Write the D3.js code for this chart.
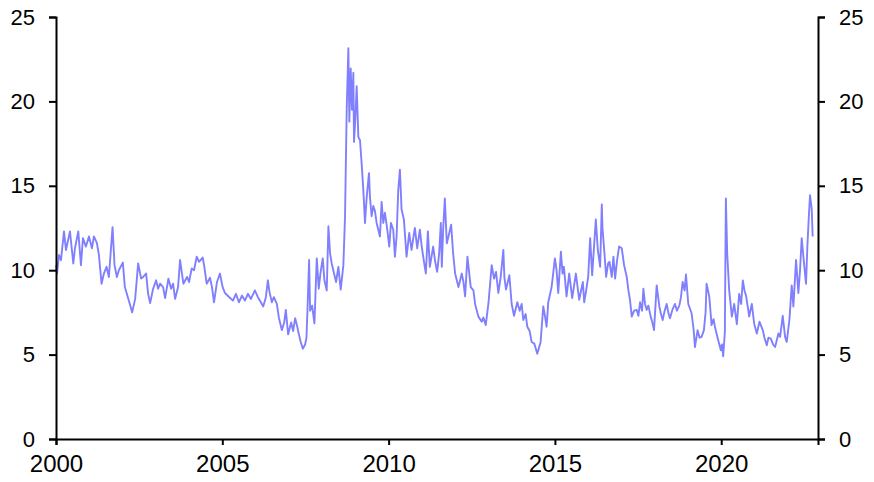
<!DOCTYPE html>
<html lang="en">
  <head>
    <title>Volatility, 2000-2022</title>
    <style>
      body { margin: 0; background: #fff; }
      .axis text { font-family: "Liberation Sans", Arial, sans-serif; font-size: 22px; fill: #000; }
      .axis.x text { font-size: 24px; }
      .axis path, .axis line { stroke: #000; stroke-width: 2; }
    </style>
  </head>
  <body>
    <div id="viz"></div>
    <script src="https://unpkg.com/d3@7/dist/d3.min.js"></script>
    <script>
      // values (decimal years)
      const dates = [
        2000.00, 2000.03, 2000.09, 2000.15, 2000.24, 2000.30, 2000.42, 2000.52, 2000.57, 2000.67,
        2000.75, 2000.81, 2000.90, 2000.99, 2001.08, 2001.14, 2001.23, 2001.29, 2001.37, 2001.44,
        2001.52, 2001.59, 2001.70, 2001.76, 2001.83, 2001.89, 2002.01, 2002.07, 2002.16, 2002.22,
        2002.29, 2002.38, 2002.47, 2002.56, 2002.62, 2002.71, 2002.77, 2002.83, 2002.92, 2003.01,
        2003.07, 2003.13, 2003.22, 2003.28, 2003.38, 2003.46, 2003.52, 2003.58, 2003.67, 2003.73,
        2003.83, 2003.94, 2004.00, 2004.08, 2004.15, 2004.23, 2004.30, 2004.41, 2004.46, 2004.53,
        2004.63, 2004.69, 2004.75, 2004.84, 2004.93, 2005.01, 2005.08, 2005.21, 2005.32, 2005.41,
        2005.50, 2005.59, 2005.68, 2005.77, 2005.86, 2005.98, 2006.07, 2006.16, 2006.23, 2006.31,
        2006.37, 2006.42, 2006.49, 2006.55, 2006.64, 2006.70, 2006.79, 2006.86, 2006.91, 2006.95,
        2006.98, 2007.07, 2007.13, 2007.19, 2007.25, 2007.28, 2007.35, 2007.42, 2007.49, 2007.53,
        2007.56, 2007.61, 2007.64, 2007.70, 2007.77, 2007.84, 2007.90, 2007.95, 2008.02, 2008.07,
        2008.14, 2008.19, 2008.24, 2008.29, 2008.36, 2008.42, 2008.49, 2008.56, 2008.64, 2008.69,
        2008.74, 2008.79, 2008.82, 2008.86, 2008.90, 2008.94, 2008.96, 2009.00, 2009.04, 2009.09,
        2009.14, 2009.19, 2009.24, 2009.29, 2009.34, 2009.41, 2009.44, 2009.49, 2009.54, 2009.59,
        2009.64, 2009.69, 2009.74, 2009.79, 2009.84, 2009.89, 2009.96, 2010.02, 2010.07, 2010.14,
        2010.19, 2010.24, 2010.29, 2010.34, 2010.39, 2010.46, 2010.54, 2010.62, 2010.69, 2010.75,
        2010.79, 2010.86, 2010.94, 2010.99, 2011.04, 2011.12, 2011.18, 2011.24, 2011.34, 2011.40,
        2011.46, 2011.52, 2011.57, 2011.60, 2011.64, 2011.69, 2011.75, 2011.80, 2011.88, 2011.94,
        2012.00, 2012.10, 2012.20, 2012.25, 2012.30, 2012.37, 2012.47, 2012.55, 2012.60, 2012.70,
        2012.80, 2012.85, 2012.92, 2013.00, 2013.10, 2013.17, 2013.23, 2013.30, 2013.37, 2013.45,
        2013.48, 2013.53, 2013.63, 2013.70, 2013.77, 2013.87, 2013.94, 2014.00, 2014.05, 2014.12,
        2014.17, 2014.24, 2014.30, 2014.38, 2014.47, 2014.57, 2014.65, 2014.70, 2014.75, 2014.80,
        2014.90, 2014.96, 2015.00, 2015.05, 2015.10, 2015.18, 2015.23, 2015.27, 2015.35, 2015.43,
        2015.52, 2015.57, 2015.63, 2015.73, 2015.84, 2015.88, 2015.94, 2016.00, 2016.06, 2016.12,
        2016.18, 2016.23, 2016.29, 2016.36, 2016.41, 2016.43, 2016.49, 2016.54, 2016.60, 2016.64,
        2016.71, 2016.76, 2016.81, 2016.87, 2016.93, 2017.01, 2017.08, 2017.16, 2017.21, 2017.26,
        2017.31, 2017.38, 2017.46, 2017.51, 2017.56, 2017.62, 2017.66, 2017.71, 2017.76, 2017.81,
        2017.88, 2017.93, 2017.98, 2018.06, 2018.14, 2018.19, 2018.24, 2018.30, 2018.36, 2018.42,
        2018.46, 2018.54, 2018.61, 2018.67, 2018.74, 2018.79, 2018.84, 2018.90, 2018.94, 2019.01,
        2019.11, 2019.17, 2019.21, 2019.29, 2019.35, 2019.41, 2019.48, 2019.53, 2019.56, 2019.64,
        2019.68, 2019.71, 2019.77, 2019.81, 2019.91, 2019.99, 2020.02, 2020.06, 2020.11, 2020.14,
        2020.18, 2020.24, 2020.32, 2020.39, 2020.47, 2020.54, 2020.60, 2020.65, 2020.70, 2020.75,
        2020.81, 2020.84, 2020.92, 2020.99, 2021.07, 2021.15, 2021.25, 2021.30, 2021.37, 2021.42,
        2021.49, 2021.56, 2021.62, 2021.72, 2021.77, 2021.85, 2021.92, 2021.97, 2022.05, 2022.12,
        2022.17, 2022.25, 2022.32, 2022.37, 2022.42, 2022.49, 2022.55, 2022.59, 2022.63, 2022.67,
        2022.72, 2022.75
      ]
      const values = [
        10.3, 9.8, 10.9, 10.6, 12.3, 11.2, 12.3, 10.4, 11.3, 12.3,
        10.3, 11.9, 11.4, 12.0, 11.3, 12.0, 11.6, 10.9, 9.2, 9.8,
        10.2, 9.6, 12.55, 10.3, 9.6, 10.0, 10.45, 9.0, 8.4, 8.0,
        7.5, 8.3, 10.4, 9.5, 9.6, 9.8, 8.6, 8.05, 8.9, 9.4,
        8.9, 9.2, 9.0, 8.35, 9.5, 8.9, 9.2, 8.3, 9.0, 10.6,
        9.2, 9.6, 9.3, 10.1, 10.0, 10.8, 10.5, 10.75, 10.2, 9.2,
        9.55, 9.0, 8.1, 9.3, 9.8, 9.0, 8.65, 8.4, 8.2, 8.6,
        8.1, 8.5, 8.2, 8.6, 8.3, 8.8, 8.4, 8.1, 7.85, 8.4,
        9.4, 8.7, 8.1, 8.4, 8.0, 7.2, 6.45, 6.9, 7.65, 6.8,
        6.2, 6.9, 6.4, 7.15, 6.7, 6.4, 5.8, 5.35, 5.6, 6.0,
        7.6, 10.6, 7.6, 7.9, 6.85, 10.7, 8.9, 9.8, 10.7, 9.4,
        8.8, 12.6, 11.0, 10.4, 9.8, 9.3, 10.2, 8.85, 10.3, 13.2,
        19.5, 23.15, 18.8, 21.95, 19.5, 21.7, 17.6, 19.0, 20.9, 17.9,
        17.7, 16.3, 14.75, 12.8, 14.3, 15.75, 14.3, 13.2, 13.8, 13.5,
        12.8, 12.4, 12.0, 14.05, 12.8, 13.4, 12.4, 11.4, 12.8, 12.4,
        10.8, 12.0, 14.75, 15.95, 13.6, 13.0, 10.8, 12.2, 11.2, 12.0,
        12.5, 11.3, 12.4, 11.5, 10.8, 9.8, 12.3, 10.2, 11.4, 10.5,
        9.9, 11.0, 12.8, 10.2, 12.4, 14.25, 11.6, 12.0, 12.7, 11.0,
        9.8, 9.0, 9.8, 9.3, 8.45, 10.8, 9.0, 8.8, 8.0, 7.25,
        6.95, 7.2, 6.75, 8.0, 10.3, 9.5, 9.9, 8.65, 9.6, 11.2,
        9.6, 8.85, 9.7, 8.0, 7.3, 8.1, 7.6, 8.0, 7.05, 7.4,
        6.65, 6.4, 5.75, 5.65, 5.05, 5.75, 7.85, 7.3, 6.65, 8.1,
        9.0, 10.0, 10.7, 10.0, 8.65, 11.1, 9.8, 10.2, 8.45, 9.8,
        8.35, 9.0, 9.8, 8.25, 9.3, 8.1, 8.8, 9.6, 11.9, 9.7,
        11.5, 13.0, 11.2, 10.2, 13.9, 12.5, 11.0, 9.6, 10.4, 10.5,
        9.6, 10.8, 9.5, 10.6, 11.4, 11.3, 10.3, 9.6, 8.8, 8.2,
        7.25, 7.6, 7.65, 7.3, 8.1, 7.6, 8.9, 8.0, 7.65, 7.9,
        7.25, 6.9, 6.45, 9.1, 7.85, 7.4, 7.05, 7.6, 8.0, 7.4,
        7.15, 7.7, 8.0, 7.6, 7.9, 8.4, 9.3, 8.8, 9.75, 8.0,
        7.45, 6.5, 5.45, 6.45, 6.0, 6.05, 6.45, 7.5, 9.2, 8.45,
        7.5, 6.75, 7.1, 6.65, 5.85, 5.25, 5.6, 4.9, 6.35, 14.25,
        11.0, 8.8, 7.25, 8.0, 6.8, 8.6, 8.0, 9.4, 8.8, 8.45,
        7.7, 7.25, 8.0, 6.85, 6.25, 6.95, 6.45, 6.0, 5.55, 6.0,
        5.95, 5.6, 5.45, 6.25, 6.05, 7.3, 6.05, 5.75, 7.05, 9.1,
        7.85, 10.6, 8.65, 10.0, 11.9, 10.4, 9.2, 11.4, 13.0, 14.45,
        13.65, 12.0
      ]
      const yTicks = [0, 5, 10, 15, 20, 25]
      const xTicks = [2000, 2005, 2010, 2015, 2020]

      const width = 874
      const height = 482
      const margin = { top: 17, right: 56, bottom: 43, left: 56 }

      const svg = d3.select('#viz').append('svg').attr('width', width).attr('height', height)

      const x = d3.scaleLinear()
        .domain([2000, 2022.91])
        .range([margin.left, width - margin.right])
      const y = d3.scaleLinear()
        .domain([0, 25])
        .range([height - margin.bottom, margin.top])

      const series = dates.map((d, i) => ({ date: d, value: values[i] }))

      const line = d3.line()
        .x(d => x(d.date))
        .y(d => y(d.value))

      svg.append('path')
        .datum(series)
        .attr('fill', 'none')
        .attr('stroke', '#8080ff')
        .attr('stroke-width', 1.9)
        .attr('stroke-linejoin', 'round')
        .attr('d', line)

      svg.append('g')
        .attr('class', 'axis')
        .attr('transform', `translate(${margin.left},0)`)
        .call(d3.axisLeft(y).tickValues(yTicks).tickSizeOuter(0).tickSize(7).tickPadding(14))

      svg.append('g')
        .attr('class', 'axis')
        .attr('transform', `translate(${width - margin.right},0)`)
        .call(d3.axisRight(y).tickValues(yTicks).tickSizeOuter(0).tickSize(7).tickPadding(14))

      svg.append('g')
        .attr('class', 'axis x')
        .attr('transform', `translate(0,${height - margin.bottom})`)
        .call(d3.axisBottom(x).tickValues(xTicks).tickFormat(d3.format('d')).tickSizeOuter(0).tickSize(6).tickPadding(10))
    </script>
  </body>
</html>
